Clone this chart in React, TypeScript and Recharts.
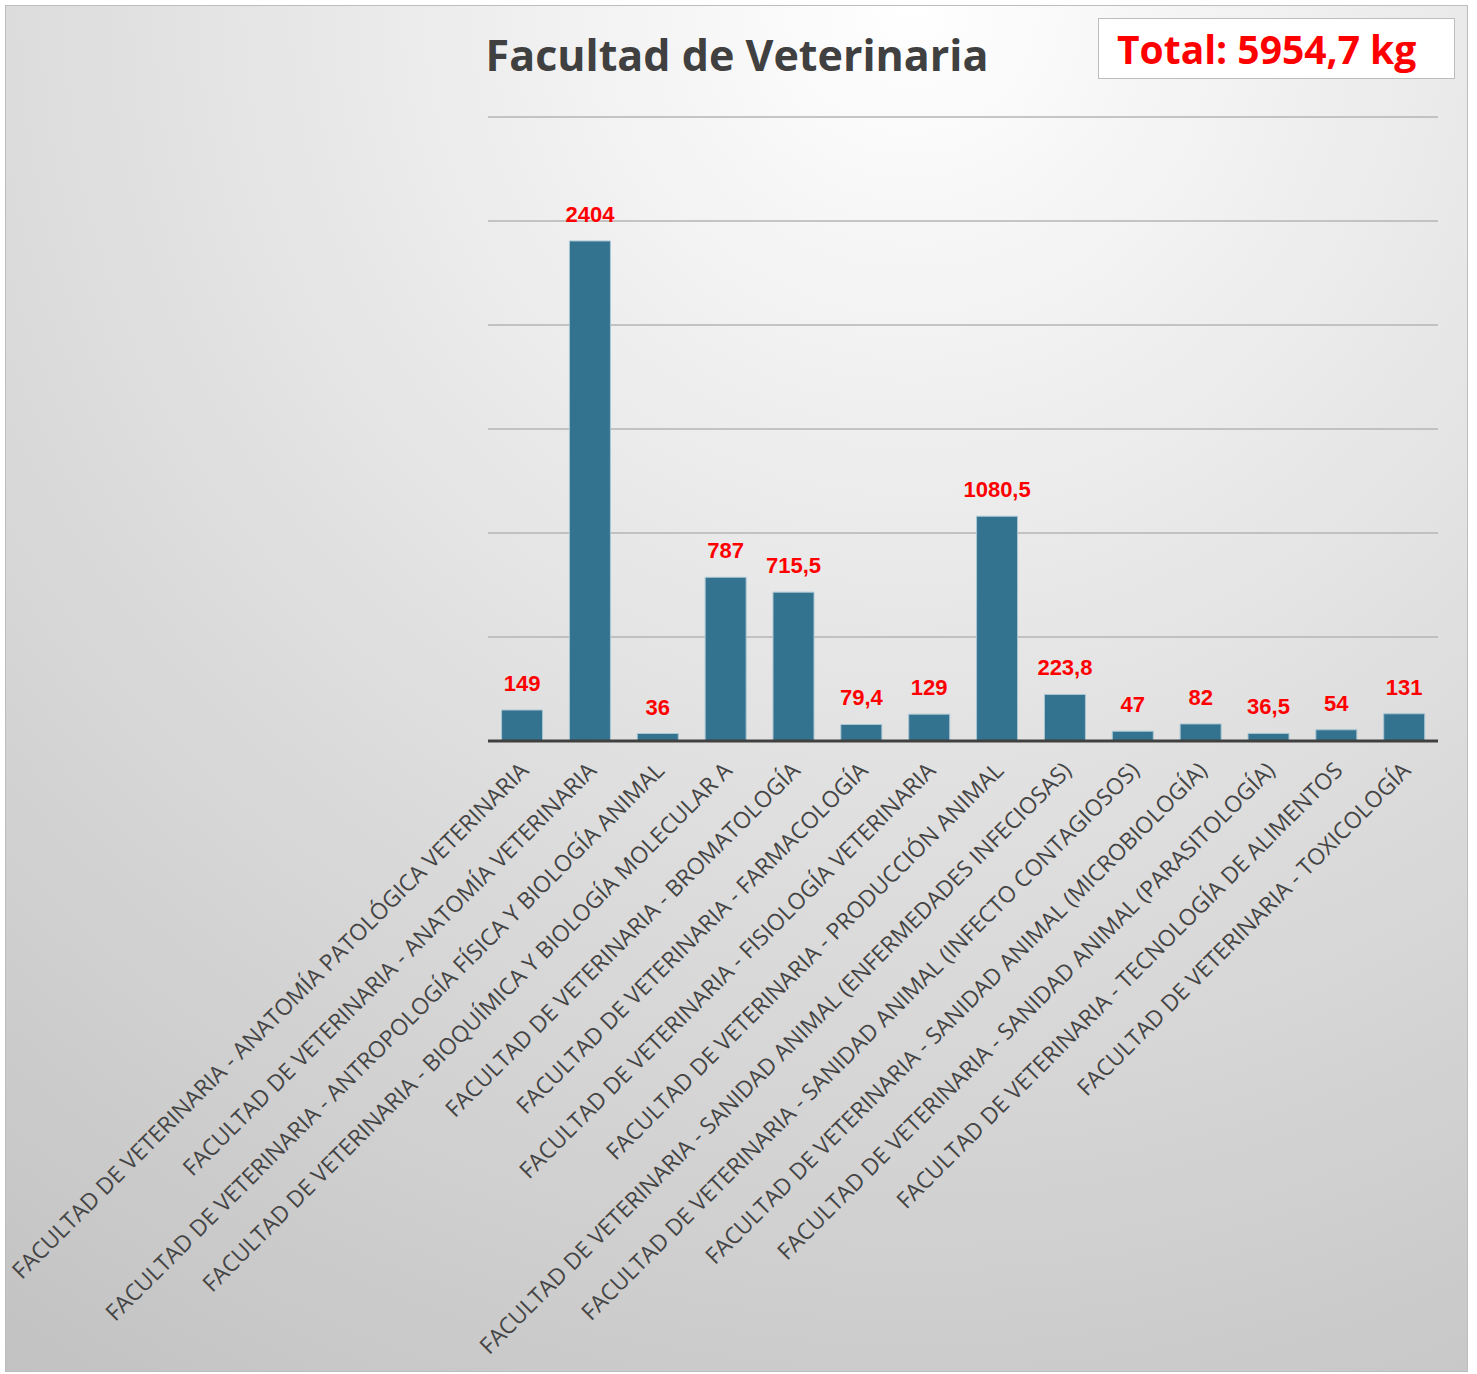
import { BarChart, Bar, XAxis, YAxis, CartesianGrid, LabelList } from 'recharts'

const CATEGORIES = [
  'FACULTAD DE VETERINARIA - ANATOMÍA PATOLÓGICA VETERINARIA',
  'FACULTAD DE VETERINARIA - ANATOMÍA VETERINARIA',
  'FACULTAD DE VETERINARIA - ANTROPOLOGÍA FÍSICA Y BIOLOGÍA ANIMAL',
  'FACULTAD DE VETERINARIA - BIOQUÍMICA Y BIOLOGÍA MOLECULAR A',
  'FACULTAD DE VETERINARIA - BROMATOLOGÍA',
  'FACULTAD DE VETERINARIA - FARMACOLOGÍA',
  'FACULTAD DE VETERINARIA - FISIOLOGÍA VETERINARIA',
  'FACULTAD DE VETERINARIA - PRODUCCIÓN ANIMAL',
  'FACULTAD DE VETERINARIA - SANIDAD ANIMAL (ENFERMEDADES INFECIOSAS)',
  'FACULTAD DE VETERINARIA - SANIDAD ANIMAL (INFECTO CONTAGIOSOS)',
  'FACULTAD DE VETERINARIA - SANIDAD ANIMAL (MICROBIOLOGÍA)',
  'FACULTAD DE VETERINARIA - SANIDAD ANIMAL (PARASITOLOGÍA)',
  'FACULTAD DE VETERINARIA - TECNOLOGÍA DE ALIMENTOS',
  'FACULTAD DE VETERINARIA - TOXICOLOGÍA',
]
const KG = [149, 2404, 36, 787, 715.5, 79.4, 129, 1080.5, 223.8, 47, 82, 36.5, 54, 131]
const Y_TICKS = [0, 500, 1000, 1500, 2000, 2500, 3000]

const TITLE = 'Facultad de Veterinaria'
const TOTAL = 'Total: 5954,7 kg'

const fmtKg = (v: number) => String(v).replace('.', ',')

function CategoryTick({ x, y, payload }: any) {
  const tx = x + 8
  const ty = y + 23
  return (
    <text
      x={tx} y={ty}
      transform={`rotate(-45, ${tx}, ${ty})`}
      textAnchor="end"
      fontSize={22.8}
      fontFamily="'Open Sans', sans-serif"
      fill="#454545"
    >
      {payload.value}
    </text>
  )
}

export default function App() {
  const data = CATEGORIES.map((c, i) => ({ name: c, kg: KG[i] }))

  return (
    <div style={{
      position: 'absolute', left: 5, top: 5, width: 1461, height: 1365,
      border: '1px solid #bdbdbd',
      background: 'radial-gradient(circle farthest-corner at 62% 0%, #ffffff 0%, #dcdcdc 55%, #c2c2c2 100%)',
    }}>
      <div style={{
        position: 'absolute', left: 0, top: 24, width: 1462, textAlign: 'center',
        fontFamily: "'Open Sans', sans-serif", fontWeight: 700,
        fontSize: 43, color: '#404040', lineHeight: '50px', pointerEvents: 'none',
      }}>
        {TITLE}
      </div>
      <div style={{
        position: 'absolute', left: 1092, top: 12, width: 357, height: 61,
        background: '#ffffff', border: '1px solid #bdbdbd',
        fontFamily: "'Open Sans', sans-serif", fontWeight: 700, fontSize: 39,
        color: '#ff0000', lineHeight: '59px', paddingLeft: 18, boxSizing: 'border-box',
      }}>
        {TOTAL}
      </div>
      <BarChart
        width={1461}
        height={1365}
        data={data}
        margin={{ top: 111, right: 29, bottom: 0, left: 482 }}
        barCategoryGap="20%"
      >
        <CartesianGrid horizontal vertical={false} stroke="#b4b4b4" strokeWidth={1.5} />
        <YAxis hide domain={[0, 3000]} ticks={Y_TICKS} />
        <XAxis
          dataKey="name"
          interval={0}
          height={630}
          tick={<CategoryTick />}
          tickLine={false}
          axisLine={{ stroke: '#404040', strokeWidth: 3 }}
        />
        <Bar dataKey="kg" fill="#34738f" stroke="#a9c6d4" strokeWidth={1} isAnimationActive={false}>
          <LabelList
            dataKey="kg"
            position="top"
            offset={19}
            formatter={(v: any) => fmtKg(Number(v))}
            style={{ fill: '#ff0000', fontWeight: 700, fontSize: 22, fontFamily: "'Liberation Sans', Arial, sans-serif" }}
          />
        </Bar>
      </BarChart>
    </div>
  )
}
